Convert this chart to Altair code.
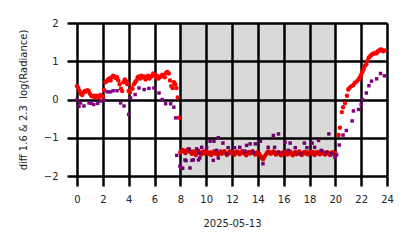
import altair as alt
import numpy as np
import pandas as pd

# ---- data (hours on 2025-05-13) ----
red_day_start, red_day_step = 0.0, 0.1
red_day_vals = [0.35, 0.30, 0.22, 0.15, 0.12, 0.18, 0.22, 0.20, 0.24, 0.22,
                0.15, 0.10, 0.08, 0.10, 0.06, 0.10, 0.08, 0.05, 0.12, 0.10,
                0.08, 0.25, 0.45, 0.48, 0.52, 0.55, 0.50, 0.58, 0.62, 0.60,
                0.56, 0.58, 0.50, 0.40, 0.28, 0.22, 0.45, 0.52, 0.48, 0.40,
                0.22, 0.18, 0.30, 0.28, 0.40, 0.45, 0.50, 0.58, 0.60, 0.55,
                0.62, 0.58, 0.60, 0.52, 0.56, 0.62, 0.55, 0.58, 0.62, 0.68,
                0.65, 0.58, 0.62, 0.55, 0.58, 0.60, 0.65, 0.62, 0.58, 0.70,
                0.72, 0.68, 0.50, 0.35, 0.30, 0.45, 0.40, 0.30, 0.05, -0.48]

red_night_start, red_night_step = 8.0, 0.1
red_night_vals = [-1.38, -1.35, -1.32, -1.36, -1.40, -1.33, -1.30, -1.35, -1.38, -1.42,
                  -1.36, -1.40, -1.45, -1.38, -1.34, -1.40, -1.44, -1.38, -1.36, -1.41,
                  -1.35, -1.40, -1.42, -1.38, -1.45, -1.40, -1.36, -1.41, -1.38, -1.44,
                  -1.40, -1.36, -1.42, -1.38, -1.35, -1.40, -1.45, -1.42, -1.38, -1.36,
                  -1.41, -1.38, -1.44, -1.40, -1.36, -1.39, -1.43, -1.38, -1.35, -1.40,
                  -1.42, -1.46, -1.40, -1.37, -1.41, -1.38, -1.35, -1.40, -1.44, -1.40,
                  -1.38, -1.42, -1.48, -1.52, -1.56, -1.50, -1.45, -1.40, -1.36, -1.38,
                  -1.42, -1.40, -1.36, -1.38, -1.44, -1.40, -1.38, -1.42, -1.46, -1.40,
                  -1.37, -1.42, -1.38, -1.44, -1.40, -1.36, -1.42, -1.46, -1.40, -1.38,
                  -1.43, -1.39, -1.36, -1.42, -1.45, -1.40, -1.37, -1.41, -1.38, -1.44,
                  -1.40, -1.36, -1.42, -1.38, -1.45, -1.41, -1.37, -1.40, -1.43, -1.39,
                  -1.36, -1.41, -1.44, -1.40, -1.38, -1.42, -1.45, -1.40, -1.38, -1.42,
                  -1.40]

red_eve_hours = [20.25, 20.35, 20.5, 20.6, 20.75, 20.9, 21.0, 21.1, 21.25, 21.4, 21.5,
                 21.65, 21.8, 21.9, 22.0, 22.1, 22.2, 22.3, 22.4, 22.5, 22.6, 22.7,
                 22.8, 22.9, 23.0, 23.1, 23.2, 23.3, 23.4, 23.5, 23.6, 23.7, 23.8]
red_eve_vals = [-0.93, -0.74, -0.33, -0.20, -0.09, 0.10, 0.26, 0.30, 0.35, 0.38, 0.43,
                0.47, 0.52, 0.58, 0.65, 0.72, 0.80, 0.88, 0.92, 1.02, 1.10, 1.13,
                1.17, 1.19, 1.20, 1.22, 1.21, 1.26, 1.28, 1.31, 1.30, 1.26, 1.28]

purple_hours = [0.0, 0.15, 0.28, 0.54, 0.93, 1.1, 1.3, 1.6, 1.83, 2.1, 2.35, 2.6, 2.8, 3.1,
                3.38, 3.64, 4.0, 4.15, 4.5, 4.8, 5.2, 5.57, 5.96, 6.35, 6.6, 6.86, 7.25,
                7.5, 7.64,
                7.72, 7.97, 8.1, 8.18, 8.36, 8.44, 8.7, 8.75, 8.9, 9.0, 9.26, 9.4, 9.44,
                9.5, 9.65, 10.04, 10.3, 10.55, 10.6, 10.8, 10.94, 10.94, 11.3, 11.6, 11.7,
                12.2, 12.6, 13.0, 13.13, 13.4, 13.65, 13.8, 14.2, 14.4, 14.8, 15.2, 15.3,
                15.6, 15.6, 16.1, 16.35, 16.5, 16.9, 17.3, 17.6, 17.8, 18.2, 18.4, 18.7,
                18.9, 19.3, 19.5, 19.7, 19.97, 20.1,
                20.3, 20.6, 20.85, 21.3, 21.4, 21.8, 22.0, 22.1, 22.4, 22.6, 22.8, 23.2,
                23.5, 23.8]
purple_vals = [0.0, -0.18, -0.09, -0.17, -0.09, -0.10, -0.13, -0.10, -0.04, -0.02, 0.20,
               0.20, 0.23, 0.23, -0.09, -0.17, -0.39, 0.04, 0.13, 0.30, 0.26, 0.29, 0.30,
               0.17, 0.0, -0.11, -0.11, -0.20, -0.48,
               -1.46, -1.74, -1.79, -1.80, -1.58, -1.60, -1.30, -1.79, -1.59, -1.58,
               -1.29, -1.58, -1.40, -1.53, -1.25, -1.26, -1.09, -1.59, -1.09, -1.33,
               -1.00, -1.53, -1.14, -1.42, -1.26, -1.26, -1.25, -1.35, -1.20, -1.16,
               -1.38, -1.16, -1.09, -1.68, -1.25, -0.94, -1.25, -0.90, -1.38, -1.12,
               -1.33, -1.14, -1.26, -1.42, -1.14, -1.26, -1.14, -1.25, -1.07, -1.33,
               -1.38, -0.90, -1.42, -1.51, -1.45,
               -1.19, -0.93, -0.81, -0.56, -0.30, -0.26, -0.13, 0.0, 0.17, 0.36, 0.48,
               0.54, 0.68, 0.62]

x_ticks = [0, 2, 4, 6, 8, 10, 12, 14, 16, 18, 20, 22, 24]
y_ticks = [-2, -1, 0, 1, 2]
night_start, night_end = 8, 20

# ---- tables ----
red_hours = (list(np.round(red_day_start + red_day_step * np.arange(len(red_day_vals)), 2))
             + list(np.round(red_night_start + red_night_step * np.arange(len(red_night_vals)), 2))
             + red_eve_hours)
red_df = pd.DataFrame({"hour": red_hours, "val": red_day_vals + red_night_vals + red_eve_vals})
pur_df = pd.DataFrame({"hour": purple_hours, "val": purple_vals})
shade_df = pd.DataFrame({"x": [night_start], "x2": [night_end], "y": [-2], "y2": [2]})

FONT = "DejaVu Sans"
xs = alt.Scale(domain=[0, 24], nice=False, zero=False)
ys = alt.Scale(domain=[-2, 2], nice=False, zero=False)

x_axis = alt.Axis(values=x_ticks, title="2025-05-13", grid=True, gridColor="black",
                  gridWidth=2.5, gridOpacity=1, domain=False, tickColor="black",
                  tickWidth=2.5, tickSize=10, labelPadding=8, labelFontSize=10,
                  labelFont=FONT, labelColor="#222", titleFont=FONT, titleFontSize=10,
                  titleFontWeight="normal", titleColor="#222", titleY=47,
                  titleBaseline="middle", labelFlush=False, labelOverlap=False,
                  format="d")
y_axis = alt.Axis(values=y_ticks, title="diff 1.6 & 2.3\u00a0 log(Radiance)", grid=True,
                  gridColor="black", gridWidth=2.5, gridOpacity=1, domain=False,
                  tickColor="black", tickWidth=2.5, tickSize=10, labelPadding=9,
                  labelFontSize=10, labelFont=FONT, labelColor="#222", titleFont=FONT,
                  titleFontSize=10, titleFontWeight="normal", titleColor="#222",
                  titleX=-54, titleY=76.5, titleBaseline="middle", labelFlush=False,
                  labelOverlap=False, format="d")

shade = alt.Chart(shade_df).mark_rect(color="black", opacity=0.15).encode(
    x=alt.X("x:Q", scale=xs, axis=x_axis), x2="x2:Q",
    y=alt.Y("y:Q", scale=ys, axis=y_axis), y2="y2:Q",
)
red = alt.Chart(red_df).mark_point(shape="circle", filled=True, size=20, color="#ff0000",
                                   opacity=1).encode(
    x=alt.X("hour:Q", scale=xs, axis=x_axis),
    y=alt.Y("val:Q", scale=ys, axis=y_axis),
)
pur = alt.Chart(pur_df).mark_point(shape="square", filled=True, size=12, color="#800080",
                                   opacity=1).encode(
    x=alt.X("hour:Q", scale=xs, axis=x_axis),
    y=alt.Y("val:Q", scale=ys, axis=y_axis),
)

chart = alt.layer(red, pur, shade).properties(
    width=310, height=153,
    autosize=alt.AutoSizeParams(type="none"),
    padding={"left": 77, "top": 23, "right": 27, "bottom": 72},
).configure_view(stroke=None).configure(background="white")

chart.save("out.html", embed_options={"renderer": "svg", "actions": False})
